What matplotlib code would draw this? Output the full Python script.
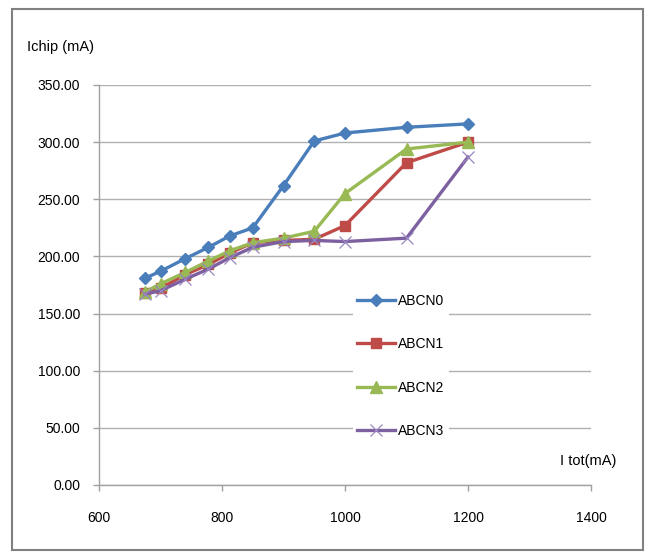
import matplotlib
matplotlib.use("Agg")
import matplotlib.pyplot as plt
from matplotlib.patches import Rectangle
from matplotlib.ticker import FormatStrFormatter

plt.rcParams['font.family'] = ['Liberation Sans', 'DejaVu Sans']

itot = [675, 700, 740, 778, 813, 850, 900, 950, 1000, 1100, 1200]
abcn0 = [181, 187, 198, 208, 218, 225, 262, 301, 308, 313, 316]
abcn1 = [168, 172, 184, 193, 203, 212, 214, 215, 227, 282, 300]
abcn2 = [169, 176, 186, 196, 205, 212, 216, 222, 255, 294, 300]
abcn3 = [167, 170, 180, 189, 199, 208, 213, 214, 213, 216, 287]
labels = ["ABCN0", "ABCN1", "ABCN2", "ABCN3"]
xticks = [600, 800, 1000, 1200, 1400]
yticks = [0, 50, 100, 150, 200, 250, 300, 350]

W, H = 651, 554
fig = plt.figure(figsize=(W / 100, H / 100), dpi=100)
ax = fig.add_axes([99 / W, 1 - 485 / H, (591 - 99) / W, (485 - 85) / H])

ax.plot(itot, abcn0, color='#4A7EBB', lw=2.4, marker='D', ms=6.5, label=labels[0])
ax.plot(itot, abcn1, color='#BE4B48', lw=2.4, marker='s', ms=7.5, label=labels[1])
ax.plot(itot, abcn2, color='#98B954', lw=2.4, marker='^', ms=8, label=labels[2])
ax.plot(itot, abcn3, color='#7D60A0', lw=2.4, marker='x', ms=9, mew=0.9,
        mec='#9A86C0', label=labels[3])

ax.set_xlim(600, 1400)
ax.set_ylim(0, 350)
ax.set_xticks(xticks)
ax.set_yticks(yticks)
ax.yaxis.set_major_formatter(FormatStrFormatter('%.2f'))
ax.grid(axis='y', color='#B0B0B0', lw=1)
ax.set_axisbelow(True)
for s in ['top', 'right']:
    ax.spines[s].set_visible(False)
for s in ['left', 'bottom']:
    ax.spines[s].set_color('#A0A0A0')
    ax.spines[s].set_linewidth(1)
ax.tick_params(axis='both', colors='#A0A0A0', labelcolor='black', labelsize=10,
               length=4.5, width=1, direction='out')
ax.tick_params(axis='x', pad=14)
ax.tick_params(axis='y', pad=9)

fig.text(27 / W, 1 - 47 / H, "Ichip (mA)", fontsize=10.5, ha='left', va='center')
fig.text(560 / W, 1 - 461 / H, "I tot(mA)", fontsize=10.5, ha='left', va='center')

leg = ax.legend(loc='upper left', bbox_to_anchor=(353 / W, 1 - 290 / H),
                bbox_transform=fig.transFigure, fontsize=10, frameon=True,
                facecolor='white', edgecolor='none', framealpha=1, fancybox=False,
                handlelength=2.7, handletextpad=0.25, labelspacing=2.1,
                borderpad=0.3, borderaxespad=0)

fig.patches.append(Rectangle((12 / W, 1 - 550 / H), (643 - 12) / W, (550 - 9) / H,
                             transform=fig.transFigure, fill=False,
                             edgecolor='#808080', lw=1.5))

fig.savefig("out.png", dpi=100)
